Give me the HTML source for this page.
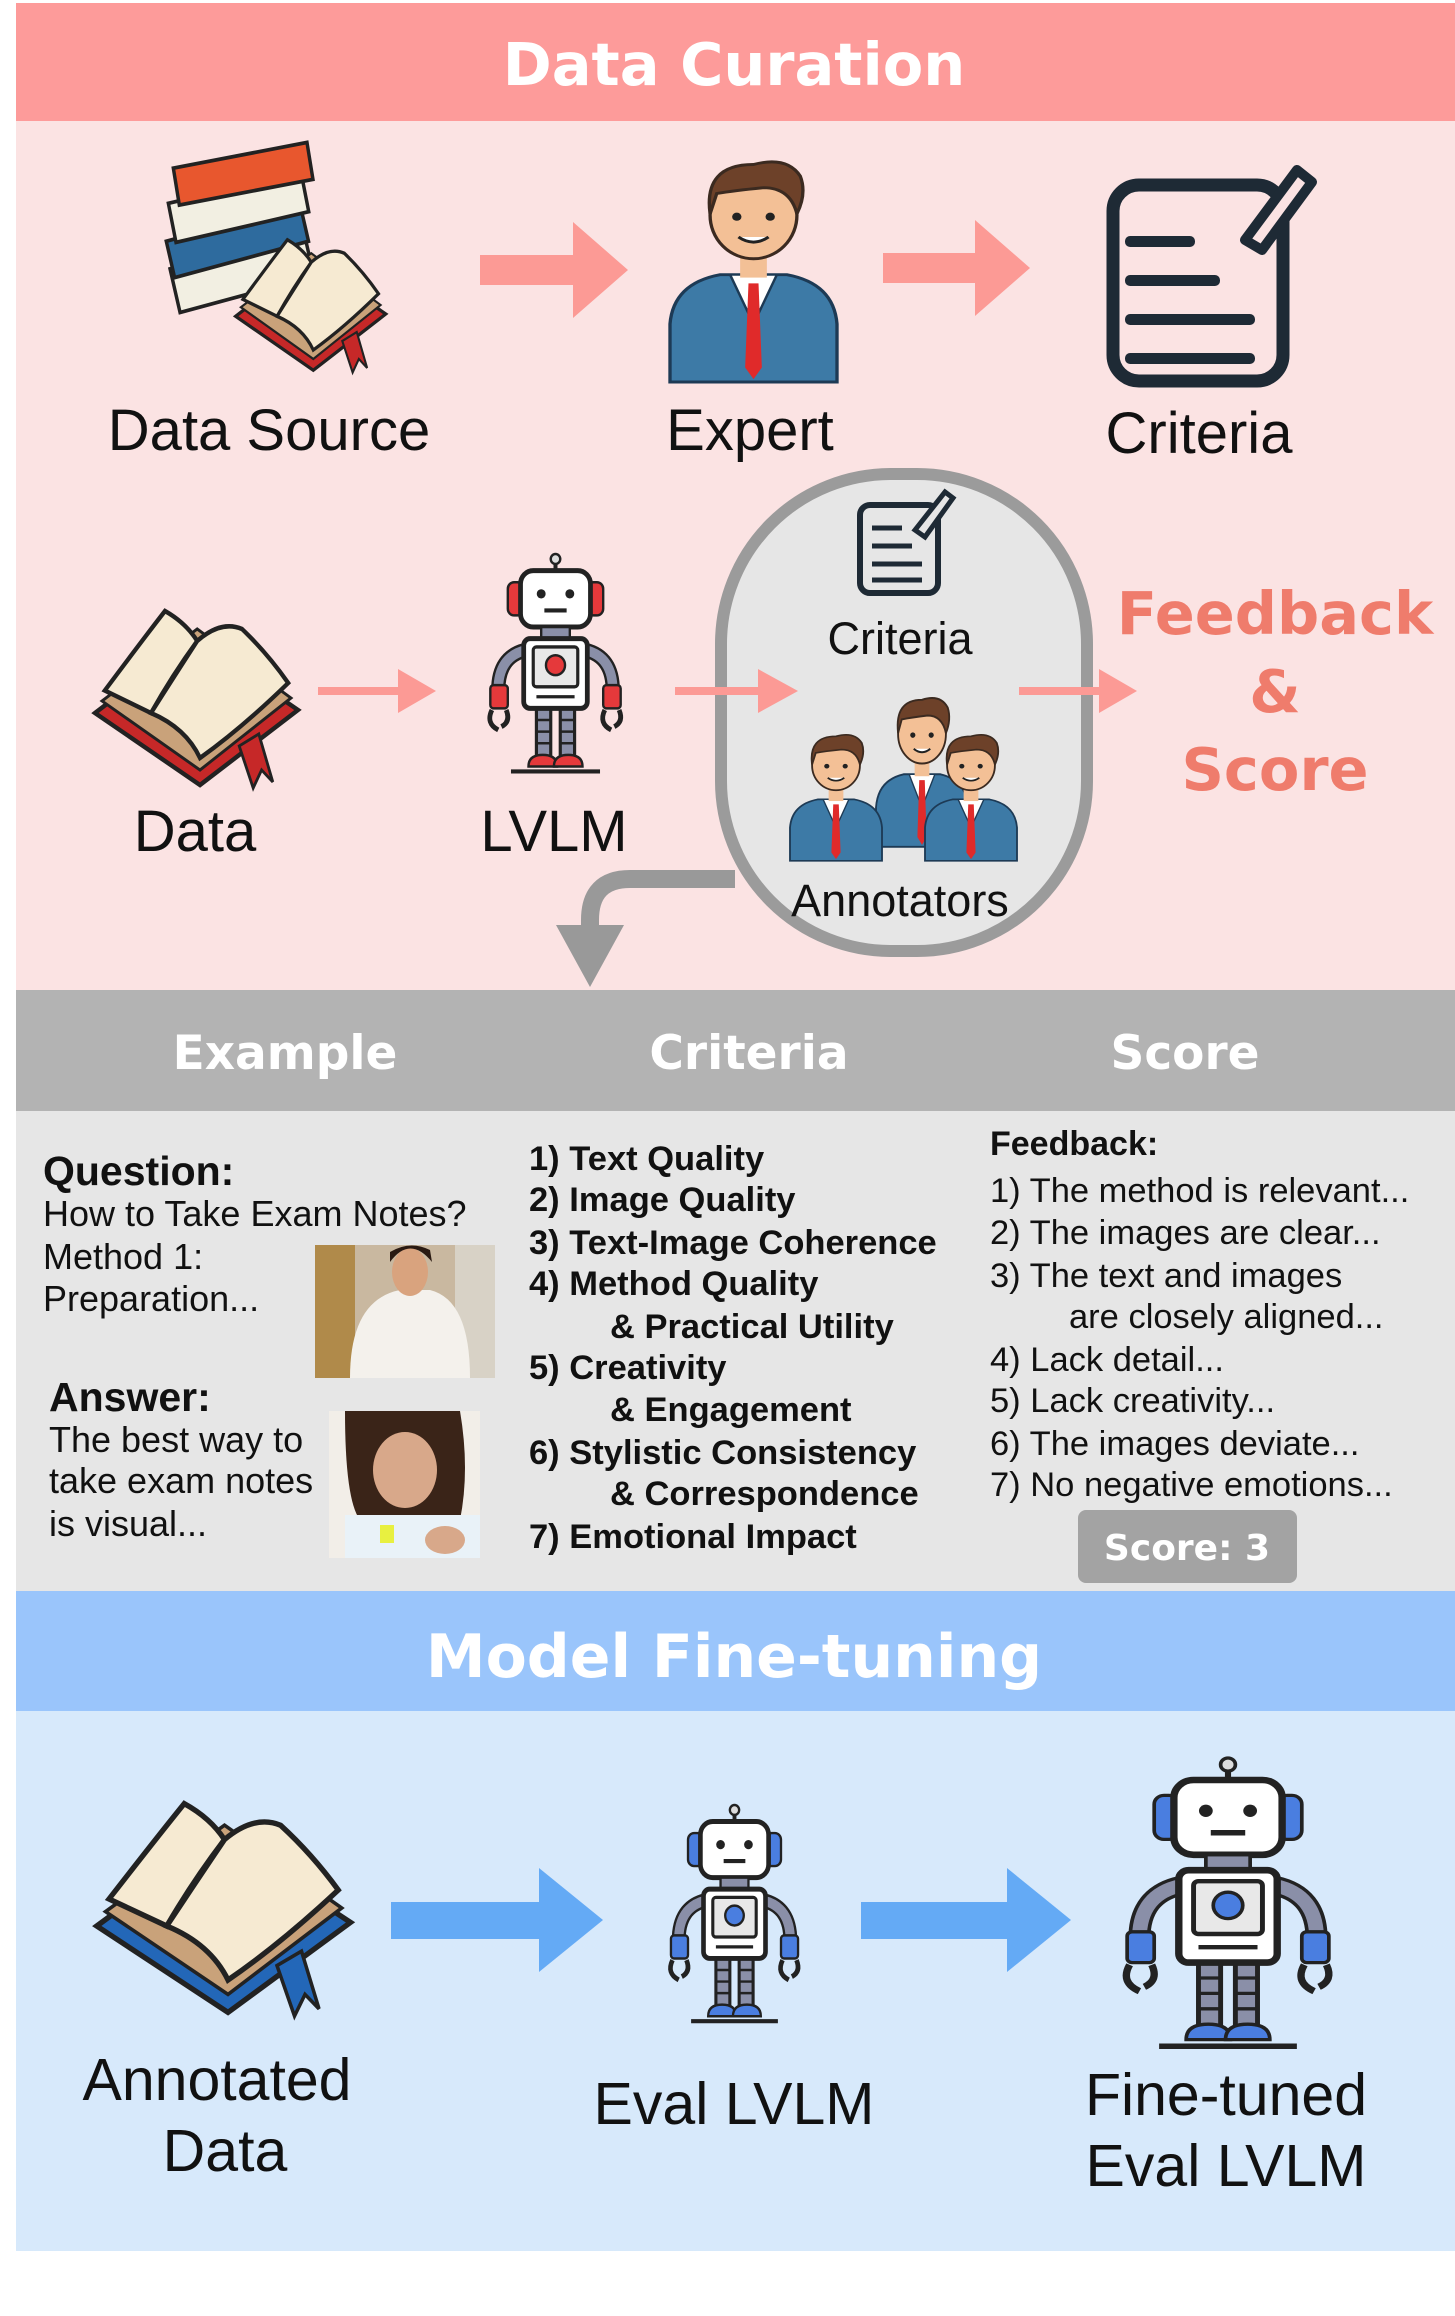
<!DOCTYPE html>
<html><head><meta charset="utf-8"><style>
html,body{margin:0;padding:0;background:#fff;}
svg{display:block;}
.h{font-family:"DejaVu Sans",sans-serif;font-weight:bold;fill:#fff;}
.l{font-family:"Liberation Sans",Arial,sans-serif;fill:#111;}
.b{font-family:"Liberation Sans",Arial,sans-serif;font-weight:bold;fill:#111;}
</style></head><body>
<svg width="1455" height="2316" viewBox="0 0 1455 2316" xmlns="http://www.w3.org/2000/svg">
<defs>
<g id="robot">
 <line x1="50" y1="2" x2="50" y2="11" stroke="#222" stroke-width="2.5"/>
 <circle cx="50" cy="3" r="3" fill="#ddd" stroke="#222" stroke-width="1.5"/>
 <path d="M31 58 Q14 62 14 82" fill="none" stroke="#222" stroke-width="9"/>
 <path d="M31 58 Q14 62 14 82" fill="none" stroke="#8a8fa8" stroke-width="6"/>
 <path d="M69 58 Q86 62 86 82" fill="none" stroke="#222" stroke-width="9"/>
 <path d="M69 58 Q86 62 86 82" fill="none" stroke="#8a8fa8" stroke-width="6"/>
 <rect x="9" y="79" width="11" height="14" rx="2" fill="currentColor" stroke="#222" stroke-width="1.5"/>
 <rect x="80" y="79" width="11" height="14" rx="2" fill="currentColor" stroke="#222" stroke-width="1.5"/>
 <path d="M10 94 q-4 8 4 12 M19 94 q3 7 -3 10" fill="none" stroke="#222" stroke-width="3"/>
 <path d="M81 94 q-4 8 4 12 M90 94 q3 7 -3 10" fill="none" stroke="#222" stroke-width="3"/>
 <rect x="20" y="17" width="10" height="20" rx="4" fill="currentColor" stroke="#222" stroke-width="1.5"/>
 <rect x="70" y="17" width="10" height="20" rx="4" fill="currentColor" stroke="#222" stroke-width="1.5"/>
 <rect x="28" y="10" width="44" height="34" rx="8" fill="#fff" stroke="#222" stroke-width="3"/>
 <circle cx="41" cy="24" r="2.8" fill="#222"/><circle cx="59" cy="24" r="2.8" fill="#222"/>
 <line x1="43" y1="34" x2="57" y2="34" stroke="#222" stroke-width="2.5"/>
 <rect x="41" y="44" width="18" height="8" fill="#8a8fa8" stroke="#222" stroke-width="1.5"/>
 <rect x="38" y="92" width="9" height="30" fill="#8a8fa8" stroke="#222" stroke-width="2"/>
 <rect x="53" y="92" width="9" height="30" fill="#8a8fa8" stroke="#222" stroke-width="2"/>
 <path d="M38 100h9M38 107h9M38 114h9M53 100h9M53 107h9M53 114h9" stroke="#222" stroke-width="1.5"/>
 <rect x="30" y="51" width="40" height="42" rx="4" fill="#fff" stroke="#222" stroke-width="3"/>
 <rect x="36" y="56" width="28" height="24" rx="2" fill="#e8e8e8" stroke="#222" stroke-width="2"/>
 <circle cx="50" cy="67" r="6" fill="currentColor" stroke="#222" stroke-width="1.5"/>
 <line x1="38" y1="86" x2="62" y2="86" stroke="#222" stroke-width="2"/>
 <path d="M33 128 q0-7 9-7 q9 0 9 7z" fill="currentColor" stroke="#222" stroke-width="1.5"/>
 <path d="M49 128 q0-7 9-7 q9 0 9 7z" fill="currentColor" stroke="#222" stroke-width="1.5"/>
 <line x1="22" y1="131" x2="78" y2="131" stroke="#222" stroke-width="2.5"/>
</g>
<g id="person">
 <path d="M0 160 L0 120 Q2 92 30 86 L70 86 Q98 92 100 120 L100 160Z" fill="#3d7aa6" stroke="#1d3a55" stroke-width="2"/>
 <path d="M36 86 L50 120 L64 86Z" fill="#fff" stroke="#1d3a55" stroke-width="1.5"/>
 <path d="M47 92 L53 92 L55 150 L50 158 L45 150Z" fill="#e02a2a"/>
 <rect x="42" y="68" width="16" height="20" fill="#f3c096"/>
 <ellipse cx="50" cy="45" rx="26" ry="30" fill="#f3c096" stroke="#3b2a20" stroke-width="2"/>
 <path d="M24 44 Q20 10 50 10 Q70 4 78 18 Q82 30 76 44 Q72 26 56 26 Q38 28 28 30Z" fill="#6d4129" stroke="#3b2a20" stroke-width="2"/>
 <circle cx="40" cy="46" r="2.8" fill="#222"/><circle cx="60" cy="46" r="2.8" fill="#222"/>
 <path d="M41 60 Q50 67 59 60" fill="#fff" stroke="#222" stroke-width="2"/>
</g>
<g id="book">
 <path d="M5 70 L75 20 L150 68 L80 118Z" fill="currentColor" stroke="#222" stroke-width="3"/>
 <path d="M10 62 L78 14 L145 60 L80 108Z" fill="#c9a27a" stroke="#222" stroke-width="2"/>
 <path d="M12 55 Q40 20 55 2 Q70 10 78 22 Q60 45 45 70 Z" fill="#f6ead2" stroke="#222" stroke-width="3"/>
 <path d="M78 22 Q95 8 110 14 Q128 30 143 50 Q110 80 80 100 Q70 80 45 70 Q62 45 78 22Z" fill="#f6ead2" stroke="#222" stroke-width="3"/>
 <path d="M108 92 L118 120 L124 108 L132 116 L122 84Z" fill="currentColor" stroke="#222" stroke-width="2"/>
</g>
</defs>

<rect x="16" y="3" width="1439" height="118" fill="#fd9b9a"/>
<rect x="16" y="121" width="1439" height="869" fill="#fbe3e3"/>
<rect x="16" y="990" width="1439" height="121" fill="#b3b3b3"/>
<rect x="16" y="1111" width="1439" height="480" fill="#e6e6e6"/>
<rect x="16" y="1591" width="1439" height="120" fill="#9ac5fb"/>
<rect x="16" y="1711" width="1439" height="540" fill="#d7e9fb"/>

<text class="h" x="734" y="85" font-size="59" text-anchor="middle">Data Curation</text>

<!-- Row 1 -->
<g transform="translate(150,150) scale(1.15,1.25)">
 <rect x="20" y="80" width="120" height="36" fill="#f2efe2" stroke="#222" stroke-width="3" transform="rotate(-14 80 98)"/>
 <rect x="16" y="58" width="120" height="30" fill="#2e6b9e" stroke="#222" stroke-width="3" transform="rotate(-14 76 73)"/>
 <rect x="18" y="30" width="118" height="32" fill="#f2efe2" stroke="#222" stroke-width="3" transform="rotate(-12 77 46)"/>
 <rect x="22" y="4" width="118" height="30" fill="#e8572e" stroke="#222" stroke-width="3" transform="rotate(-10 81 19)"/>
 <g transform="translate(70,70) scale(0.9)" style="color:#c62828"><use href="#book"/></g>
</g>
<g transform="translate(480,222)">
 <rect x="0" y="33" width="95" height="30" fill="#fc9a95"/>
 <polygon points="93,0 148,48 93,96" fill="#fc9a95"/>
</g>
<g transform="translate(670,150) scale(1.67,1.45)"><use href="#person"/></g>
<g transform="translate(883,220)">
 <rect x="0" y="33" width="94" height="30" fill="#fc9a95"/>
 <polygon points="92,0 147,48 92,96" fill="#fc9a95"/>
</g>
<g>
 <rect x="1113" y="185" width="170" height="196" rx="26" fill="none" stroke="#1e2a35" stroke-width="13"/>
 <rect x="1125" y="236" width="70" height="11" rx="5" fill="#1e2a35"/>
 <rect x="1125" y="275" width="95" height="11" rx="5" fill="#1e2a35"/>
 <rect x="1125" y="314" width="130" height="11" rx="5" fill="#1e2a35"/>
 <rect x="1125" y="353" width="130" height="11" rx="5" fill="#1e2a35"/>
 <path d="M1245 240 L1297 170 L1312 182 L1262 250Z" fill="#fbe3e3" stroke="#1e2a35" stroke-width="10" stroke-linejoin="round"/>
</g>
<text class="l" x="269" y="450" font-size="58" text-anchor="middle">Data Source</text>
<text class="l" x="750" y="450" font-size="58" text-anchor="middle">Expert</text>
<text class="l" x="1199" y="453" font-size="58" text-anchor="middle">Criteria</text>

<!-- Row 2 -->
<g transform="translate(88,608) scale(1.4,1.5)" style="color:#c62828"><use href="#book"/></g>
<rect x="318" y="687" width="82" height="8" fill="#fc9a95"/><polygon points="398,669 436,691 398,713" fill="#fc9a95"/>
<g transform="translate(476,554) scale(1.59,1.66)" style="color:#e5393b"><use href="#robot"/></g>

<path d="M735 879 L630 879 Q590 879 590 920 L590 935" fill="none" stroke="#999" stroke-width="18"/>
<polygon points="556,925 624,925 590,987" fill="#999"/>

<rect x="721" y="474" width="366" height="477" rx="170" fill="#e6e6e6" stroke="#9b9b9b" stroke-width="12"/>
<rect x="675" y="687" width="85" height="8" fill="#fc9a95"/><polygon points="758,669 798,691 758,713" fill="#fc9a95"/>
<g>
 <rect x="860" y="505" width="78" height="88" rx="10" fill="none" stroke="#1e2a35" stroke-width="6"/>
 <path d="M872 528h30M872 546h40M872 564h50M872 580h50" stroke="#1e2a35" stroke-width="5"/>
 <path d="M915 530 L945 492 L953 498 L925 537Z" fill="#e6e6e6" stroke="#1e2a35" stroke-width="5"/>
</g>
<text class="l" x="900" y="654" font-size="45" text-anchor="middle">Criteria</text>
<g transform="translate(876,690) scale(0.92,0.98)"><use href="#person"/></g>
<g transform="translate(790,728) scale(0.92,0.83)"><use href="#person"/></g>
<g transform="translate(925,728) scale(0.92,0.83)"><use href="#person"/></g>
<text class="l" x="900" y="916" font-size="45" text-anchor="middle">Annotators</text>
<rect x="1019" y="687" width="82" height="8" fill="#fc9a95"/><polygon points="1099,669 1137,691 1099,713" fill="#fc9a95"/>

<text class="h" x="1275" y="634" font-size="59" text-anchor="middle" style="fill:#ef7c6c">Feedback</text>
<text class="h" x="1275" y="712" font-size="59" text-anchor="middle" style="fill:#ef7c6c">&amp;</text>
<text class="h" x="1275" y="790" font-size="59" text-anchor="middle" style="fill:#ef7c6c">Score</text>

<text class="l" x="195" y="851" font-size="58" text-anchor="middle">Data</text>
<text class="l" x="554" y="851" font-size="58" text-anchor="middle">LVLM</text>

<!-- Gray section -->
<text class="h" x="285" y="1069" font-size="47" text-anchor="middle">Example</text>
<text class="h" x="749" y="1069" font-size="47" text-anchor="middle">Criteria</text>
<text class="h" x="1185" y="1069" font-size="47" text-anchor="middle">Score</text>

<text class="b" x="43" y="1185" font-size="41">Question:</text>
<text class="l" x="43" y="1226" font-size="36">How to Take Exam Notes?</text>
<text class="l" x="43" y="1269" font-size="36">Method 1:</text>
<text class="l" x="43" y="1311" font-size="36">Preparation...</text>
<g>
 <rect x="315" y="1245" width="180" height="133" fill="#c9b8a0"/>
 <rect x="315" y="1245" width="40" height="133" fill="#b08a4a"/>
 <rect x="455" y="1245" width="40" height="133" fill="#d8d2c6"/>
 <path d="M350 1378 Q350 1300 400 1290 L430 1290 Q470 1300 470 1378Z" fill="#f4f1ec"/>
 <ellipse cx="410" cy="1272" rx="18" ry="24" fill="#d9a37e"/>
 <path d="M390 1262 Q410 1235 432 1262 L430 1250 Q410 1240 390 1252Z" fill="#2a1a12"/>
</g>
<text class="b" x="49" y="1411" font-size="41">Answer:</text>
<text class="l" x="49" y="1452" font-size="36">The best way to</text>
<text class="l" x="49" y="1493" font-size="36">take exam notes</text>
<text class="l" x="49" y="1536" font-size="36">is visual...</text>
<g>
 <rect x="329" y="1411" width="151" height="147" fill="#f2eee8"/>
 <path d="M345 1411 Q345 1500 360 1520 L460 1520 Q470 1470 460 1411Z" fill="#3a2418"/>
 <ellipse cx="405" cy="1470" rx="32" ry="38" fill="#d8a88a"/>
 <rect x="345" y="1515" width="135" height="43" fill="#e9f2f8"/>
 <rect x="380" y="1525" width="14" height="18" fill="#e8f040"/>
 <ellipse cx="445" cy="1540" rx="20" ry="14" fill="#d8a88a"/>
</g>

<g class="b" font-size="34.5">
<text x="529" y="1170">1) Text Quality</text>
<text x="529" y="1211">2) Image Quality</text>
<text x="529" y="1254">3) Text-Image Coherence</text>
<text x="529" y="1295">4) Method Quality</text>
<text x="610" y="1338">&amp; Practical Utility</text>
<text x="529" y="1379">5) Creativity</text>
<text x="610" y="1421">&amp; Engagement</text>
<text x="529" y="1464">6) Stylistic Consistency</text>
<text x="610" y="1505">&amp; Correspondence</text>
<text x="529" y="1548">7) Emotional Impact</text>
</g>

<text class="b" x="990" y="1155" font-size="34">Feedback:</text>
<g class="l" font-size="34.5">
<text x="990" y="1202">1) The method is relevant...</text>
<text x="990" y="1244">2) The images are clear...</text>
<text x="990" y="1287">3) The text and images</text>
<text x="1069" y="1328">are closely aligned...</text>
<text x="990" y="1371">4) Lack detail...</text>
<text x="990" y="1412">5) Lack creativity...</text>
<text x="990" y="1455">6) The images deviate...</text>
<text x="990" y="1496">7) No negative emotions...</text>
</g>
<rect x="1078" y="1510" width="219" height="73" rx="8" fill="#a3a3a3"/>
<text class="h" x="1187" y="1560" font-size="36" text-anchor="middle">Score: 3</text>

<!-- Blue section -->
<text class="h" x="734" y="1677" font-size="60" text-anchor="middle">Model Fine-tuning</text>

<g transform="translate(88,1800) scale(1.75,1.8)" style="color:#2367b8"><use href="#book"/></g>
<rect x="391" y="1902" width="150" height="37" fill="#64aaf5"/><polygon points="539,1868 603,1920 539,1972" fill="#64aaf5"/>
<g transform="translate(657,1805) scale(1.55,1.65)" style="color:#4a7ee0"><use href="#robot"/></g>
<rect x="861" y="1902" width="148" height="37" fill="#64aaf5"/><polygon points="1007,1868 1071,1920 1007,1972" fill="#64aaf5"/>
<g transform="translate(1105,1758) scale(2.46,2.2)" style="color:#4a7ee0"><use href="#robot"/></g>

<text class="l" x="217" y="2100" font-size="59" text-anchor="middle">Annotated</text>
<text class="l" x="225" y="2171" font-size="59" text-anchor="middle">Data</text>
<text class="l" x="734" y="2124" font-size="59" text-anchor="middle">Eval LVLM</text>
<text class="l" x="1226" y="2115" font-size="59" text-anchor="middle">Fine-tuned</text>
<text class="l" x="1226" y="2186" font-size="59" text-anchor="middle">Eval LVLM</text>
</svg>
</body></html>
